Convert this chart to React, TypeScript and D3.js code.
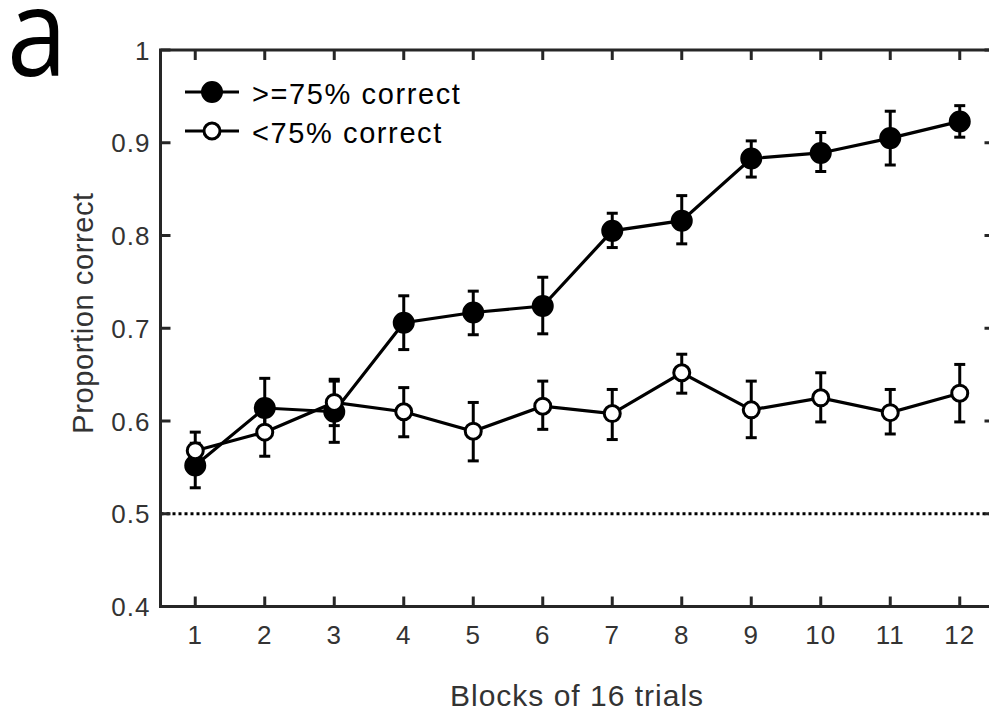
import React from 'react';
import * as d3 from 'd3';

// block numbers
const blocks = [1, 2, 3, 4, 5, 6, 7, 8, 9, 10, 11, 12];

// >=75% correct group: mean, lower, upper
const highMean = [0.552, 0.614, 0.610, 0.706, 0.717, 0.724, 0.805, 0.816, 0.883, 0.889, 0.905, 0.923];
const highLow = [0.528, 0.583, 0.577, 0.677, 0.693, 0.694, 0.787, 0.791, 0.863, 0.869, 0.876, 0.906];
const highHigh = [0.576, 0.646, 0.643, 0.735, 0.740, 0.755, 0.824, 0.843, 0.902, 0.911, 0.934, 0.940];

// <75% correct group
const lowMean = [0.568, 0.588, 0.620, 0.610, 0.589, 0.616, 0.608, 0.652, 0.612, 0.625, 0.609, 0.630];
const lowLow = [0.548, 0.562, 0.595, 0.583, 0.557, 0.591, 0.580, 0.630, 0.582, 0.599, 0.586, 0.599];
const lowHigh = [0.588, 0.614, 0.645, 0.636, 0.620, 0.643, 0.634, 0.672, 0.643, 0.652, 0.634, 0.661];

const yTicks = [0.4, 0.5, 0.6, 0.7, 0.8, 0.9, 1];
const yTickLabels = ['0.4', '0.5', '0.6', '0.7', '0.8', '0.9', '1'];
const legendLabels = ['>=75% correct', '<75% correct'];

const W = 989;
const H = 715;
const font = '"Liberation Sans", Arial, Helvetica, sans-serif';
const axisColor = '#262626';
const textColor = '#333';

const App: React.FC = () => {
  const x = d3.scaleLinear().domain([0.5, 12.5]).range([160.5, 994.5]);
  const y = d3.scaleLinear().domain([0.4, 1]).range([606.5, 50]);

  const line = d3.line<number>()
    .x((_, i) => x(blocks[i]))
    .y(d => y(d));

  const series = [
    { mean: highMean, lo: highLow, hi: highHigh, fill: '#000' },
    { mean: lowMean, lo: lowLow, hi: lowHigh, fill: '#fff' },
  ];

  const [x0, x1] = x.range();
  const [y0, y1] = y.range();
  const tickLen = 10;

  return (
    <svg width={W} height={H} style={{ position: 'absolute', left: 0, top: 0, background: '#fff' }}>
      {/* panel letter, a bit taller than Open Sans */}
      <text transform="translate(7,76) scale(1,1.14)" fontFamily='"Open Sans", sans-serif' fontSize={108} fill="#000">a</text>

      {/* chance line */}
      <line x1={x0} x2={x1} y1={y(0.5)} y2={y(0.5)} stroke="#000" strokeWidth={3} strokeDasharray="3,3" />

      {/* axes box */}
      <g stroke={axisColor} strokeWidth={3} fill="none">
        <rect x={x0} y={y1} width={x1 - x0} height={y0 - y1} />
        {blocks.map(b => (
          <g key={`xt${b}`}>
            <line x1={x(b)} x2={x(b)} y1={y0} y2={y0 - tickLen} />
            <line x1={x(b)} x2={x(b)} y1={y1} y2={y1 + tickLen} />
          </g>
        ))}
        {yTicks.map(t => (
          <g key={`yt${t}`}>
            <line x1={x0} x2={x0 + tickLen} y1={y(t)} y2={y(t)} />
            <line x1={x1} x2={x1 - tickLen} y1={y(t)} y2={y(t)} />
          </g>
        ))}
      </g>

      {/* tick labels */}
      <g fontFamily={font} fontSize={26} fill={textColor} letterSpacing={1}>
        {blocks.map(b => (
          <text key={`xl${b}`} x={x(b)} y={y0 + 37.5} textAnchor="middle">{b}</text>
        ))}
        {yTicks.map((t, i) => (
          <text key={`yl${t}`} x={x0 - 10} y={y(t) + 9.5} textAnchor="end">{yTickLabels[i]}</text>
        ))}
      </g>

      <text x={577} y={706} textAnchor="middle" fontFamily={font} fontSize={30} letterSpacing={1} fill={textColor}>
        Blocks of 16 trials
      </text>
      <text transform={`translate(93,313) rotate(-90)`} textAnchor="middle"
        fontFamily={font} fontSize={29} letterSpacing={0.6} fill={textColor}>
        Proportion correct
      </text>

      {/* series */}
      {series.map((s, si) => (
        <g key={`s${si}`}>
          <path d={line(s.mean) || ''} fill="none" stroke="#000" strokeWidth={3.2} />
          {blocks.map((b, i) => (
            <g key={`e${si}-${b}`} stroke="#000" strokeWidth={3}>
              <line x1={x(b)} x2={x(b)} y1={y(s.lo[i])} y2={y(s.hi[i])} />
              <line x1={x(b) - 5.5} x2={x(b) + 5.5} y1={y(s.lo[i])} y2={y(s.lo[i])} />
              <line x1={x(b) - 5.5} x2={x(b) + 5.5} y1={y(s.hi[i])} y2={y(s.hi[i])} />
            </g>
          ))}
          {blocks.map((b, i) => (
            <circle key={`m${si}-${b}`} cx={x(b)} cy={y(s.mean[i])} r={s.fill === '#000' ? 9.5 : 8}
              fill={s.fill} stroke="#000" strokeWidth={3} />
          ))}
        </g>
      ))}

      {/* legend */}
      {legendLabels.map((lab, i) => {
        const ly = 92 + i * 39;
        const s = series[i];
        return (
          <g key={lab}>
            <line x1={185} x2={239} y1={ly} y2={ly} stroke="#000" strokeWidth={3.2} />
            <circle cx={212} cy={ly} r={s.fill === '#000' ? 9.5 : 8} fill={s.fill} stroke="#000" strokeWidth={3} />
            <text x={252} y={ly + 12} fontFamily={font} fontSize={29} letterSpacing={1.6} fill="#000">{lab}</text>
          </g>
        );
      })}
    </svg>
  );
};

export default App;
